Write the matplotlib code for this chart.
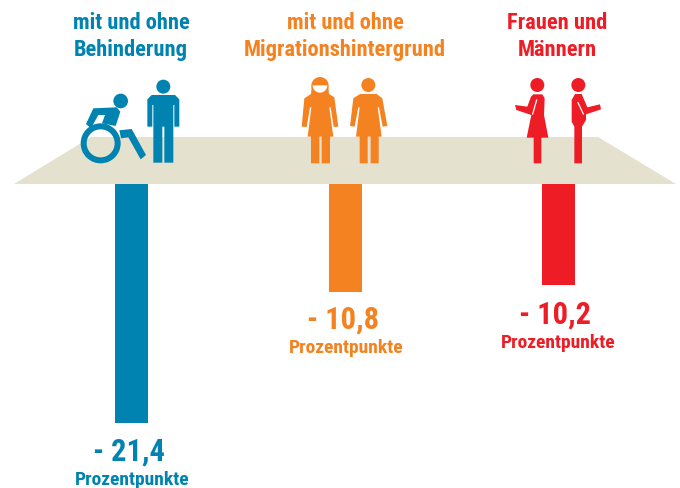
import matplotlib
matplotlib.use("Agg")
import matplotlib.pyplot as plt
from matplotlib.patches import Polygon, Circle, Wedge

# values as printed and bar lengths as drawn (the bars are not to scale with the values)
gruppen = ["mit und ohne\nBehinderung", "mit und ohne\nMigrationshintergrund", "Frauen und\nMännern"]
werte = ["- 21,4", "- 10,8", "- 10,2"]
balken_laenge = [239, 108, 101]
einheit = "Prozentpunkte"
farben = ["#0083B0", "#F58220", "#EE1C25"]

balken_x = [131.5, 345.5, 558.5]
titel_x = [131, 345, 557]
wert_y = [452, 320, 315]
einheit_y = [480, 348, 343]

BODEN = "#E4E1CE"
plt.rcParams["font.family"] = ["Roboto Condensed", "Roboto", "DejaVu Sans"]

fig = plt.figure(figsize=(6.8, 4.88), dpi=100)
ax = fig.add_axes([0, 0, 1, 1])
ax.set_xlim(0, 680)
ax.set_ylim(488, 0)
ax.axis("off")

ax.add_patch(Polygon([(14, 184), (676, 184), (598, 137), (91, 137)], color=BODEN, lw=0))

ax.bar(balken_x, balken_laenge, width=33, bottom=184, color=farben)

for x, titel, f in zip(titel_x, gruppen, farben):
    z1, z2 = titel.split("\n")
    ax.text(x, 23, z1, color=f, fontsize=16.2, fontweight="bold", ha="center", va="center")
    ax.text(x, 50, z2, color=f, fontsize=16.2, fontweight="bold", ha="center", va="center")

for x, w, wy, ey, f in zip(titel_x, werte, wert_y, einheit_y, farben):
    ax.text(x - 2, wy, w, color=f, fontsize=22, fontweight="bold", ha="center", va="center")
    ax.text(x + 1, ey, einheit, color=f, fontsize=14, fontweight="bold", ha="center", va="center")


def zoom_poly(punkte, ox, oy, farbe):
    # coordinates taken from the 3x crops
    ax.add_patch(Polygon([(ox + a / 3, oy + b / 3) for a, b in punkte], color=farbe, lw=0))


def kopf(cx, cy, r, ox, oy, farbe):
    ax.add_patch(Circle((ox + cx / 3, oy + cy / 3), r / 3, color=farbe, lw=0))


# wheelchair
c = farben[0]
kopf(182, 93, 22, 60, 70, c)
ax.add_patch(Wedge((60 + 122 / 3, 70 + 220 / 3), 60 / 3, 0, 360, width=18 / 3, color=c, lw=0))
zoom_poly([(100, 115), (170, 112), (181, 125), (167, 168), (126, 160), (135, 135), (115, 135),
           (93, 175), (78, 162)], 60, 70, c)
zoom_poly([(178, 181), (215, 177), (258, 255), (242, 268), (205, 202), (183, 205)], 60, 70, c)

# man next to it
kopf(310, 50, 21, 60, 70, c)
zoom_poly([(275, 75), (345, 75), (358, 88), (358, 170), (343, 170), (343, 105), (340, 105), (340, 278),
           (313, 278), (313, 170), (307, 170), (307, 278), (280, 278), (280, 105), (277, 105), (277, 170),
           (262, 170), (262, 88)], 60, 70, c)

# orange figures
c = farben[1]
kopf(105, 47, 26, 285, 70, c)
zoom_poly([(80, 50), (130, 50), (132, 72), (148, 82), (160, 170), (146, 171), (137, 112), (133, 112),
           (145, 200), (135, 200), (135, 280), (110, 280), (110, 200), (103, 200), (103, 280), (78, 280),
           (78, 200), (68, 200), (79, 112), (75, 112), (65, 171), (50, 170), (58, 85), (78, 72)], 285, 70, c)
# y axis points down here, so this half circle opens towards the chin
ax.add_patch(Wedge((285 + 105 / 3, 70 + 46 / 3), 22 / 3, 0, 180, color="white", lw=0))

kopf(250, 45, 21, 285, 70, c)
zoom_poly([(225, 72), (275, 72), (292, 85), (307, 168), (293, 170), (282, 112), (278, 112), (290, 200),
           (281, 200), (281, 280), (257, 280), (257, 200), (248, 200), (248, 280), (224, 280), (224, 200),
           (213, 200), (224, 112), (220, 112), (209, 170), (195, 168), (205, 85)], 285, 70, c)

# red figures
c = farben[2]
kopf(112, 45, 21, 500, 70, c)
zoom_poly([(100, 73), (127, 73), (134, 85), (132, 135), (145, 203), (124, 203), (124, 280), (101, 280),
           (101, 203), (80, 203), (94, 135), (49, 120), (45, 105), (82, 110), (93, 80)], 500, 70, c)
kopf(235, 45, 21, 500, 70, c)
zoom_poly([(225, 72), (245, 72), (262, 112), (300, 103), (303, 118), (258, 133), (258, 150), (246, 170),
           (246, 280), (223, 280), (223, 170), (215, 155), (215, 90)], 500, 70, c)
# slits between arm and torso
ax.plot([500 + 110 / 3, 500 + 98 / 3], [70 + 90 / 3, 70 + 132 / 3], color="white", lw=0.9)
ax.plot([500 + 234 / 3, 500 + 250 / 3], [70 + 98 / 3, 70 + 132 / 3], color="white", lw=0.9)

fig.savefig("out.png", dpi=100)
